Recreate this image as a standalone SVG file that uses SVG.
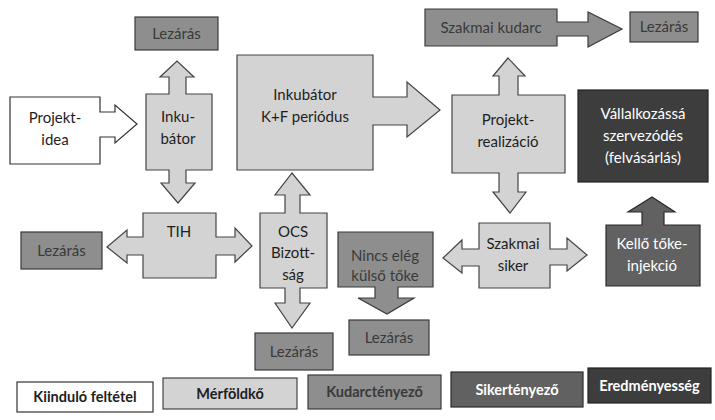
<svg xmlns="http://www.w3.org/2000/svg" width="715" height="420" viewBox="0 0 715 420">
<style>
.w{fill:#ffffff;stroke:#333;stroke-width:1.2}
.m{fill:#d3d3d3;stroke:#444;stroke-width:1.2}
.k{fill:#8e8e8e;stroke:#3a3a3a;stroke-width:1.2}
.s{fill:#616161;stroke:#2a2a2a;stroke-width:1.2}
.e{fill:#3d3d3d;stroke:#222;stroke-width:1.2}
text{font-family:Lato,"Open Sans","Liberation Sans",sans-serif;font-size:15px;text-anchor:middle}
.td{fill:#1e1e1e}
.tk{fill:#3a3a3a}
.tw{fill:#ffffff}
.lg{font-weight:bold;font-size:14.5px}
</style>
<rect width="715" height="420" fill="#ffffff"/>
<g id="lezaras1"><rect class="k" x="135" y="17" width="83" height="33"/><text class="tk" x="176.5" y="39">Lezárás</text></g>
<g id="projektidea"><path class="w" d="M10,97 H100 V112 H115 V105 L137,124 L115,143 V137 H100 V164 H10 Z"/><text class="td" x="55" y="123">Projekt-</text><text class="td" x="55" y="145">idea</text></g>
<g id="inkubator"><path class="m" d="M146,94 H169 V77 H160 L177,61 L194,77 H186 V94 H212 V170 H186 V183 H195 L178,203 L161,183 H169 V170 H146 Z"/><text class="td" x="178" y="122">Inku-</text><text class="td" x="178" y="144">bátor</text></g>
<g id="kf"><path class="m" d="M237,55 H373 V97 H407 V82 L440,110 L407,137 V125 H373 V170 H237 Z"/><text class="td" x="305" y="100">Inkubátor</text><text class="td" x="305" y="122">K+F periódus</text></g>
<g id="kudarc"><path class="k" d="M425,9 H557 V22 H588 V12 L622,29 L588,47 V36 H557 V46 H425 Z"/><text class="tk" x="491" y="33">Szakmai kudarc</text></g>
<g id="lezaras2"><rect class="k" x="630" y="12" width="68" height="30"/><text class="tk" x="664" y="32">Lezárás</text></g>
<g id="realizacio"><path class="m" d="M452,95 H499 V76 H493 L508,58 L525,76 H518 V95 H565 V173 H518 V192 H526 L510,213 L493,192 H499 V173 H452 Z"/><text class="td" x="508" y="125">Projekt-</text><text class="td" x="508" y="147">realizáció</text></g>
<g id="vallalkozas"><rect class="e" x="578" y="90" width="130" height="92"/><text class="tw" x="643" y="119">Vállalkozássá</text><text class="tw" x="643" y="141">szervezódés</text><text class="tw" x="643" y="163">(felvásárlás)</text></g>
<g id="lezaras3"><rect class="k" x="21" y="232" width="81" height="37"/><text class="tk" x="61.5" y="256">Lezárás</text></g>
<g id="tih"><path class="m" d="M143,213 H216 V237 H235 V228 L252,246 L235,262 V255 H216 V278 H143 V255 H127 V263 L107,247 L127,230 V237 H143 Z"/><text class="td" x="179" y="237">TIH</text></g>
<g id="ocs"><path class="m" d="M260,213 H285 V195 H275 L292,173 L310,195 H300 V213 H327 V288 H300 V303 H310 L292,328 L275,303 H285 V288 H260 Z"/><text class="td" x="293" y="237">OCS</text><text class="td" x="293" y="258">Bizott-</text><text class="td" x="293" y="280">ság</text></g>
<g id="lezaras4"><rect class="k" x="255" y="333" width="78" height="37"/><text class="tk" x="294" y="357">Lezárás</text></g>
<g id="nincs"><path class="k" d="M338,232 H433 V287 H398 V298 H414 L387,314 L358,298 H375 V287 H338 Z"/><text class="tk" x="385" y="261">Nincs elég</text><text class="tk" x="385" y="281">külső tőke</text></g>
<g id="lezaras5"><rect class="k" x="349" y="320" width="80" height="35"/><text class="tk" x="389" y="343">Lezárás</text></g>
<g id="siker"><path class="m" d="M479,223 H550 V249 H567 V238 L587,255 L567,271 V265 H550 V288 H479 V266 H462 V273 L443,258 L462,240 V249 H479 Z"/><text class="td" x="513" y="249">Szakmai</text><text class="td" x="513" y="271">siker</text></g>
<g id="kello"><path class="s" d="M606,225 H642 V212 H628 L652,197 L675,212 H664 V225 H700 V286 H606 Z"/><text class="tw" x="652" y="249">Kellő tőke-</text><text class="tw" x="652" y="271">injekció</text></g>
<g id="legend">
<rect class="w" x="17" y="382" width="136" height="30"/><text class="td lg" x="85" y="402">Kiinduló feltétel</text>
<rect class="m" x="163" y="378" width="134" height="31"/><text class="td lg" x="230" y="399">Mérföldkő</text>
<rect class="k" x="308" y="375" width="133" height="34"/><text class="lg" fill="#3a3a3a" x="374.5" y="397">Kudarctényező</text>
<rect class="s" x="451" y="372" width="132" height="35"/><text class="tw lg" x="517" y="395">Sikertényező</text>
<rect class="e" x="588" y="368" width="123" height="35"/><text class="tw lg" x="649.5" y="391">Eredményesség</text>
</g>
<g id="connectors"></g>
</svg>
